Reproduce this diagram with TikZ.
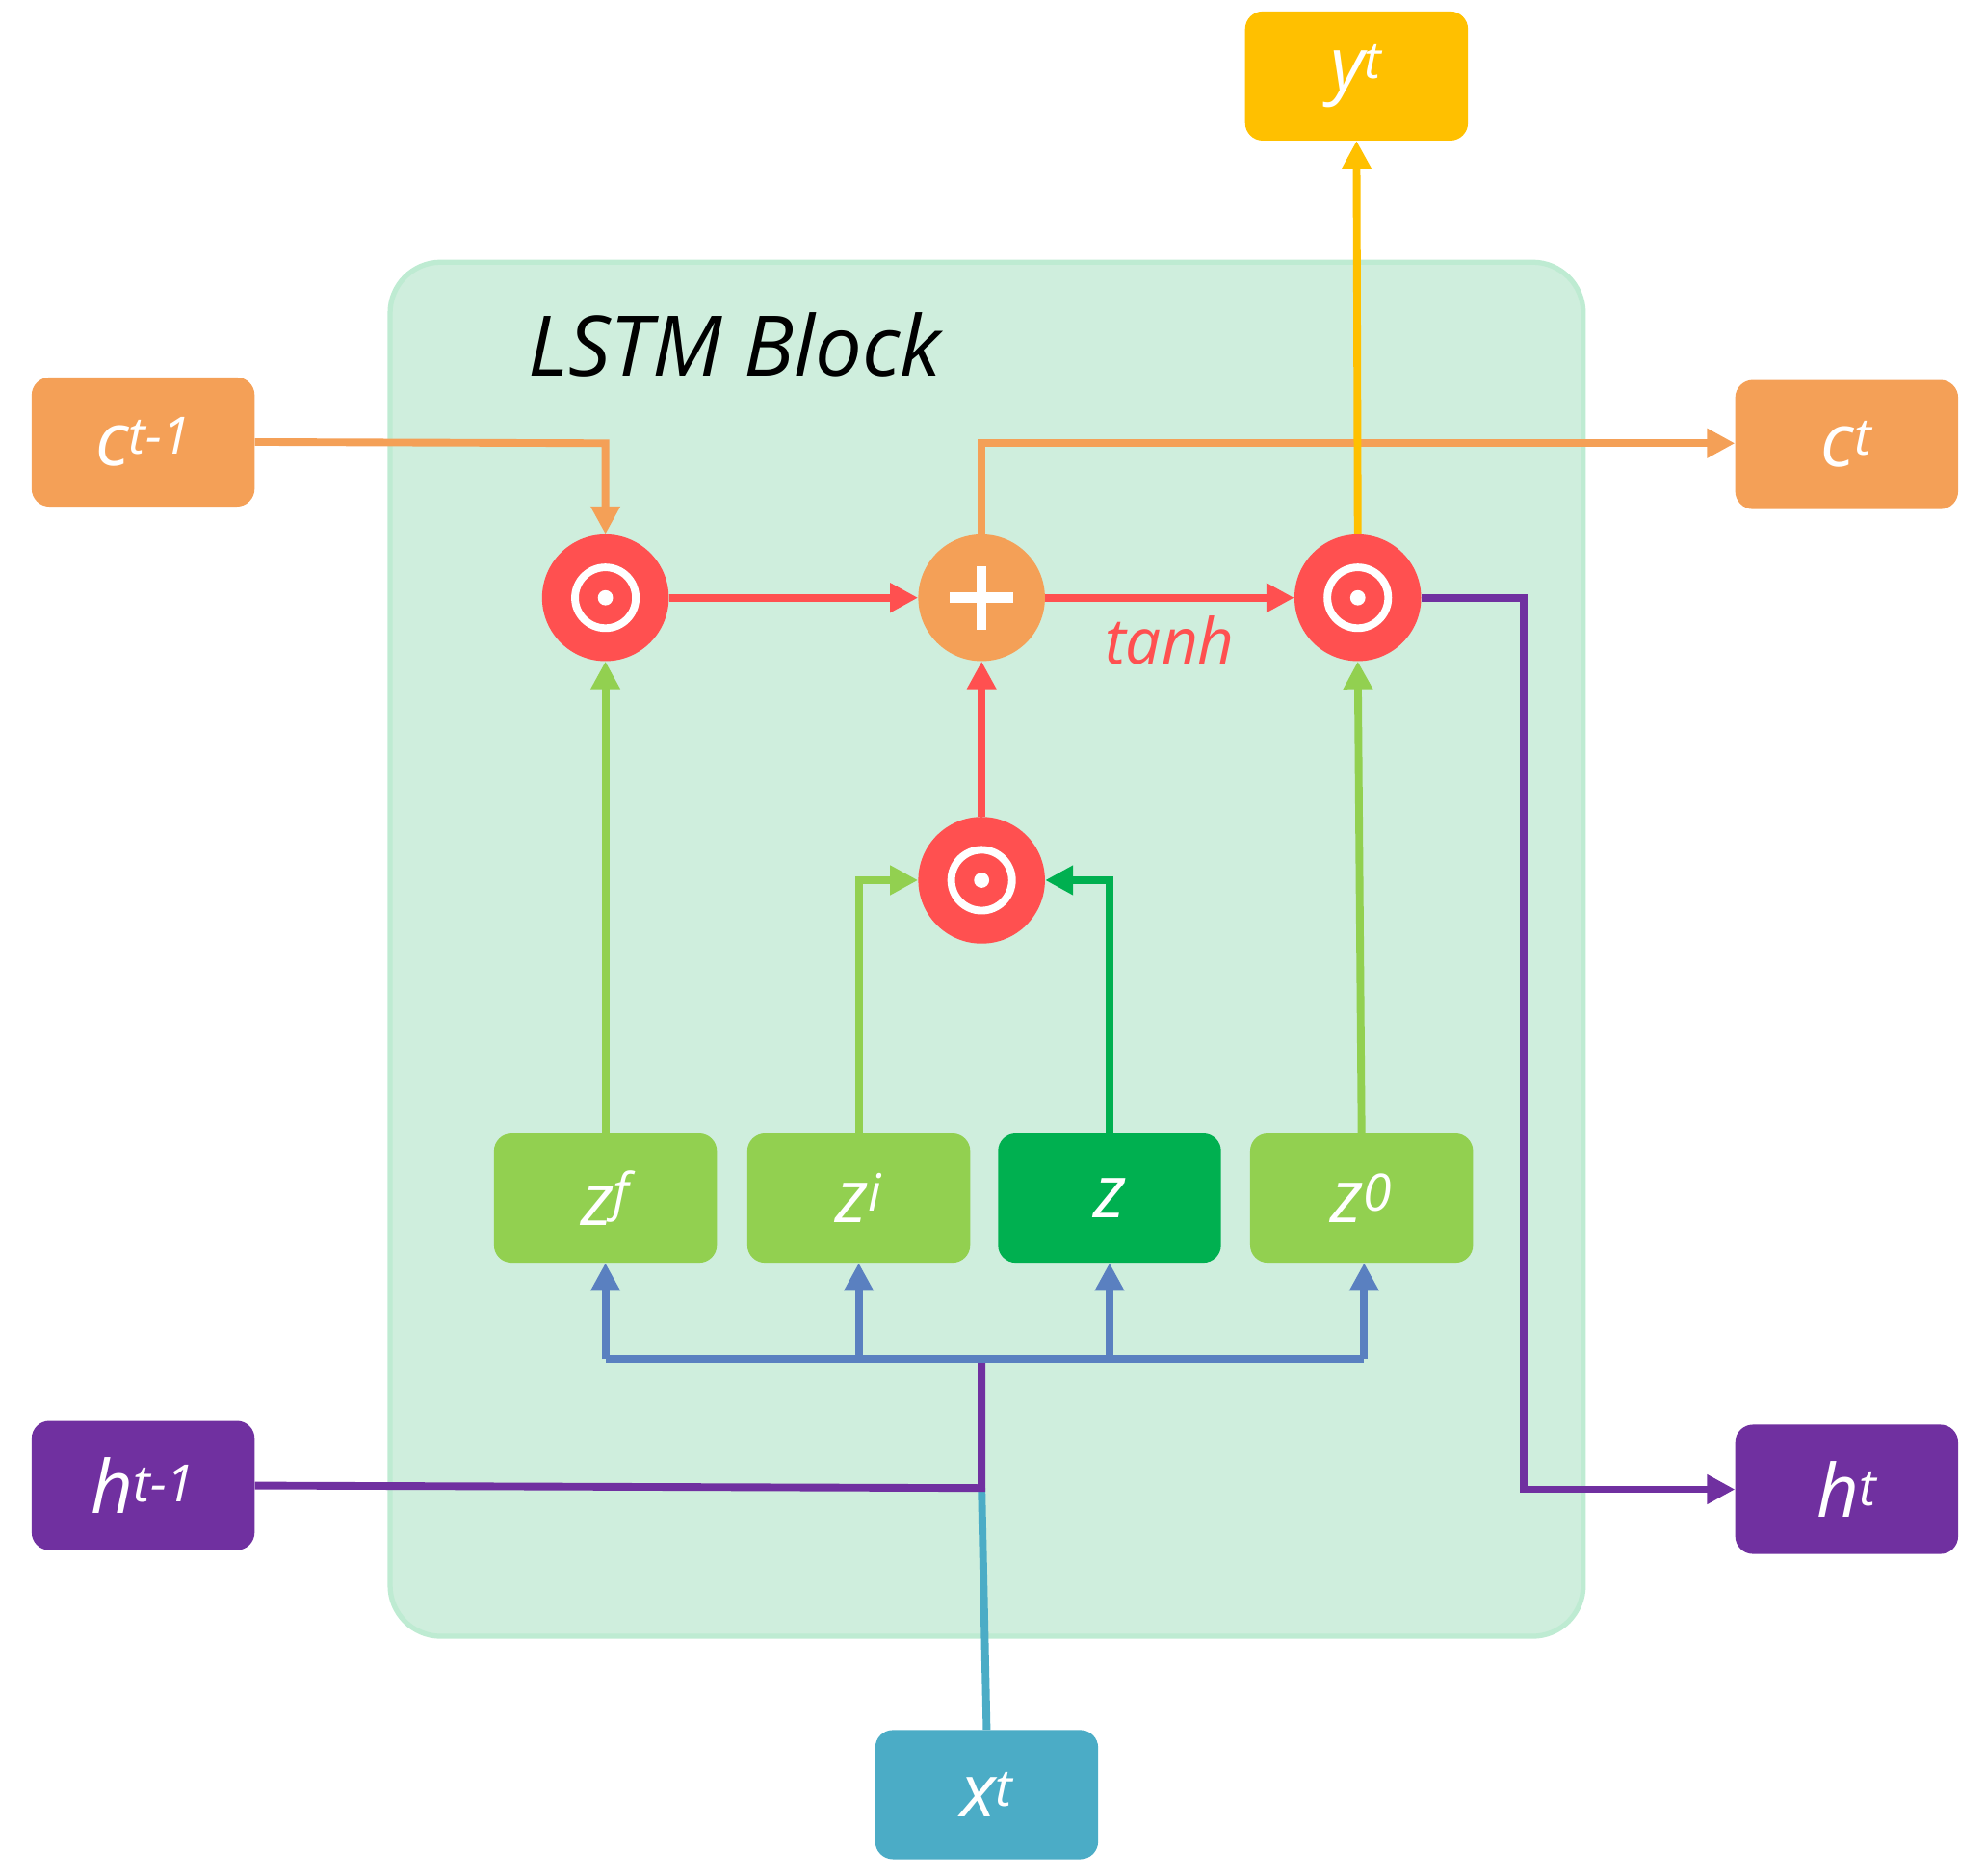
\documentclass[tikz,border=0pt]{standalone}
\usepackage{fontspec}
\setmainfont{Open Sans}
\usetikzlibrary{arrows.meta}
\definecolor{org}{HTML}{F4A057}
\definecolor{pur}{HTML}{7030A0}
\definecolor{yel}{HTML}{FFC000}
\definecolor{tea}{HTML}{4BACC6}
\definecolor{lg}{HTML}{92D050}
\definecolor{dg}{HTML}{00B050}
\definecolor{rd}{HTML}{FF5050}
\definecolor{bus}{HTML}{5A80C0}
\begin{document}
\begin{tikzpicture}[x=1pt,y=-1pt,
 box/.style={rounded corners=14pt,minimum width=176pt,minimum height=102pt,text=white,font=\fontsize{58}{58}\selectfont\itshape,inner sep=0pt},
 op/.style={circle,minimum size=100pt,inner sep=0pt,text=white},
 ar/.style={line width=6pt,-{Triangle[length=22pt,width=22pt]}},
 ln/.style={line width=6pt}]
\useasboundingbox (0,0) rectangle (1568,1481);
\draw[fill={rgb,255:red,207;green,238;blue,221},draw={rgb,255:red,190;green,235;blue,210},line width=4pt,rounded corners=40pt] (308,207) rectangle (1250,1292);
\node[font=\fontsize{66}{66}\selectfont\itshape] (title) at (580,272) {LSTM Block};
\node[box,fill=org] (cp) at (113,349) {c\textsuperscript{t-1}};
\node[box,fill=org] (ct) at (1458,351) {c\textsuperscript{t}};
\node[box,fill=pur] (hp) at (113,1173) {h\textsuperscript{t-1}};
\node[box,fill=pur] (ht) at (1458,1176) {h\textsuperscript{t}};
\node[box,fill=yel] (yt) at (1071,60) {y\textsuperscript{t}};
\node[box,fill=tea] (xt) at (779,1417) {x\textsuperscript{t}};
\node[box,fill=lg] (zf) at (478,946) {z\textsuperscript{f}};
\node[box,fill=lg] (zi) at (678,946) {z\textsuperscript{i}};
\node[box,fill=dg] (z) at (876,946) {z};
\node[box,fill=lg] (zo) at (1075,946) {z\textsuperscript{0}};
\foreach \n/\x/\y/\c in {o1/478/472/rd,pl/775/472/org,o3/1072/472/rd,o2/775/695/rd}{
 \node[op,fill=\c] (\n) at (\x,\y) {};}
\foreach \n in {o1,o3,o2}{
 \draw[white,line width=6pt] (\n) circle (24pt);
 \fill[white] (\n) circle (6pt);}
\draw[white,line width=8pt] ([xshift=-25pt]pl.center) -- ([xshift=25pt]pl.center) ([yshift=-25pt]pl.center) -- ([yshift=25pt]pl.center);
\coordinate (a1) at (478,350);
\draw[ar,org] (cp.east) -- (a1) -- (o1.north);
\coordinate (a2) at (775,350);
\draw[ar,org] (pl.north) -- (a2) -- (ct.west |- a2);
\draw[ar,rd] (o1) -- (pl);
\draw[ar,rd] (pl) -- (o3) node[midway,below=8pt,font=\fontsize{50}{50}\selectfont\itshape,text=rd] (tanh) {tanh};
\draw[ar,yel] (o3.north) -- (yt.south);
\coordinate (a3) at (1203,472);
\draw[ar,pur] (o3.east) -- (a3) -- (a3 |- ht.west) -- (ht.west);
\draw[ar,lg] (zf.north) -- (o1.south);
\draw[ar,lg] (zo.north) -- (o3.south);
\draw[ar,lg] (zi.north) -- (zi.north |- o2) -- (o2.west);
\draw[ar,dg] (z.north) -- (z.north |- o2) -- (o2.east);
\draw[ar,rd] (o2.north) -- (pl.south);
\coordinate (b0) at (775,1073);
\coordinate (b1) at (478,1073);
\coordinate (b2) at (1077,1073);
\coordinate (hj) at (775,1175);
\draw[ln,tea] (xt.north) -- (hj);
\draw[ln,pur] (hp.east) -- (hj) -- (b0);
\draw[ln,bus] (b1) -- (b2);
\draw[ar,bus] (b1) -- (zf.south);
\draw[ar,bus] (b1 -| zi.south) -- (zi.south);
\draw[ar,bus] (b1 -| z.south) -- (z.south);
\draw[ar,bus] (b2) -- (b2 |- zo.south);
\end{tikzpicture}
\end{document}
